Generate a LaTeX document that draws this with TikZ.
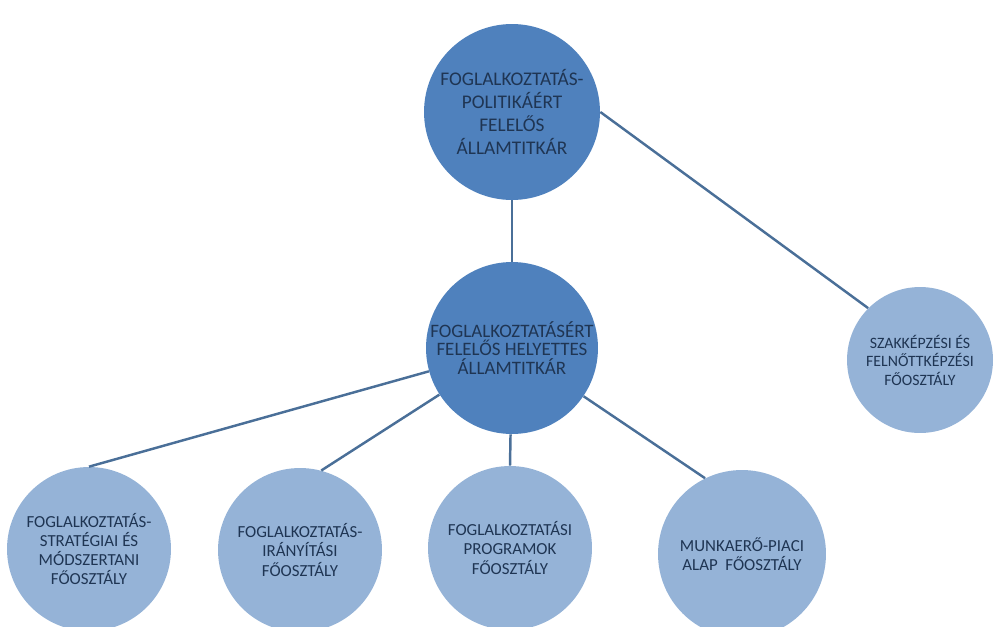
\documentclass[tikz,border=0pt]{standalone}
\usepackage{fontspec}
\setmainfont{Carlito}
\definecolor{darkcirc}{HTML}{4F81BD}
\definecolor{lightcirc}{HTML}{95B3D7}
\definecolor{linkcol}{HTML}{4A6F98}
\definecolor{textcol}{HTML}{1F3553}

\begin{document}
\begin{tikzpicture}[x=0.02cm, y=-0.02cm,
    bigcirc/.style={circle, fill=darkcirc, text=textcol, align=center, inner sep=0pt},
    smallcirc/.style={circle, fill=lightcirc, text=textcol, align=center, inner sep=0pt,
        minimum size=3.28cm, font=\fontsize{9.6}{11}\selectfont},
    link/.style={draw=linkcol, line width=1.4pt}]
    % Fix the page size
    \useasboundingbox (0,0) rectangle (1000,626);

    % Draw the state secretaries
    \node[bigcirc, minimum size=3.52cm, font=\fontsize{11}{13}\selectfont] (top) at (512,112)
        {FOGLALKOZTATÁS-\\POLITIKÁÉRT\\FELELŐS\\ÁLLAMTITKÁR};
    \node[bigcirc, minimum size=3.44cm, font=\fontsize{10.8}{10.5}\selectfont] (mid) at (512,348)
        {FOGLALKOZTATÁSÉRT\\FELELŐS HELYETTES\\ÁLLAMTITKÁR};

    % Draw the departments
    \node[smallcirc, minimum size=2.92cm, font=\fontsize{9}{10.5}\selectfont] (szak) at (920,360)
        {SZAKKÉPZÉSI ÉS\\FELNŐTTKÉPZÉSI\\FŐOSZTÁLY};
    \node[smallcirc] (strat) at (89,549)
        {FOGLALKOZTATÁS-\\STRATÉGIAI ÉS\\MÓDSZERTANI\\FŐOSZTÁLY};
    \node[smallcirc] (irany) at (300,550)
        {FOGLALKOZTATÁS-\\IRÁNYÍTÁSI\\FŐOSZTÁLY};
    \node[smallcirc] (prog) at (510,548)
        {FOGLALKOZTATÁSI\\PROGRAMOK\\FŐOSZTÁLY};
    \node[smallcirc, minimum size=3.36cm] (alap) at (742,554)
        {MUNKAERŐ-PIACI\\ALAP~~FŐOSZTÁLY};

    % Connect them
    \draw[link] (top) -- (mid);
    \draw[link] (top.east) -- (szak.135);
    \draw[link] (mid) -- (strat.north);
    \draw[link] (mid) -- (irany.75);
    \draw[link] (mid) -- (prog.north);
    \draw[link] (mid) -- (alap.116);
\end{tikzpicture}
\end{document}
